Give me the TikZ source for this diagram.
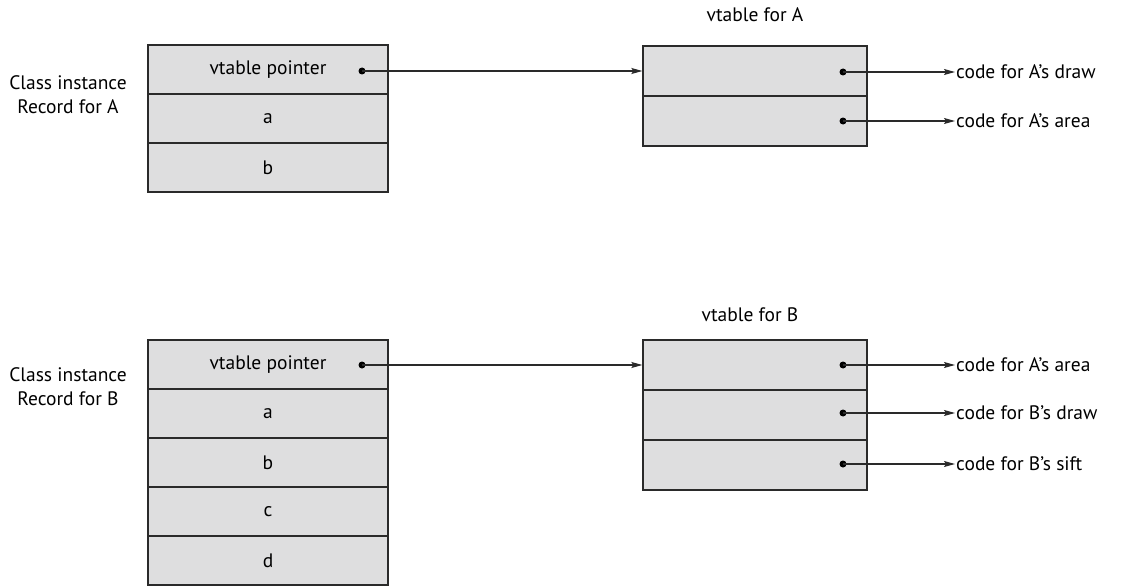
\documentclass[tikz,border=0pt]{standalone}
\usepackage{fontspec}
\setmainfont{PT Sans}
\usetikzlibrary{arrows.meta}
\definecolor{cellgray}{HTML}{DEDEDF}
\definecolor{linegray}{HTML}{2A2A2A}
\begin{document}
\begin{tikzpicture}[x=1pt,y=-1pt,
  cell/.style={draw=linegray, fill=cellgray, line width=1.3pt, minimum width=240pt, minimum height=49pt, inner sep=0pt, font=\fontsize{19.5}{23}\selectfont},
  vcell/.style={draw=linegray, fill=cellgray, line width=1.3pt, minimum width=224pt, minimum height=50pt, inner sep=0pt},
  dotn/.style={circle, fill=black, inner sep=0pt, minimum size=7pt},
  lbl/.style={font=\fontsize{19.5}{24}\selectfont, align=center, inner sep=0pt},
  code/.style={font=\fontsize{19.5}{23}\selectfont, anchor=west, inner sep=1pt},
  ptr/.style={draw=linegray, line width=1.2pt, -{Stealth[length=11pt,width=6pt,inset=2pt]}}
]
\useasboundingbox (0,0) rectangle (1133,586);
% Record for A
\node[cell] (ra0) at (268,69.5) {vtable pointer};
\node[cell] (ra1) at (268,118.5) {a};
\node[cell] (ra2) at (268,167.5) {b};
\node[lbl] (la) at (68,95) {Class instance\\Record for A};
\node[dotn] (pa) at (362,71) {};
% vtable A
\node[lbl] (ta) at (755,15) {vtable for A};
\node[vcell] (va0) at (755,71) {};
\node[vcell] (va1) at (755,121) {};
\node[dotn] (da0) at (843,72) {};
\node[dotn] (da1) at (843,121) {};
\node[code] (ca0) at (955,72) {code for A’s draw};
\node[code] (ca1) at (955,121) {code for A’s area};
\draw[ptr] (pa.center) -- (va0.west);
\draw[ptr] (da0.center) -- (ca0.west);
\draw[ptr] (da1.center) -- (ca1.west);
% Record for B
\node[cell] (rb0) at (268,364.5) {vtable pointer};
\node[cell] (rb1) at (268,413.5) {a};
\node[cell] (rb2) at (268,462.5) {b};
\node[cell] (rb3) at (268,511.5) {c};
\node[cell] (rb4) at (268,560.5) {d};
\node[lbl] (lb) at (68,387) {Class instance\\Record for B};
\node[dotn] (pb) at (362,365) {};
% vtable B
\node[lbl] (tb) at (750,315) {vtable for B};
\node[vcell] (vb0) at (755,365) {};
\node[vcell] (vb1) at (755,415) {};
\node[vcell] (vb2) at (755,465) {};
\node[dotn] (db0) at (843,365) {};
\node[dotn] (db1) at (843,413) {};
\node[dotn] (db2) at (843,464) {};
\node[code] (cb0) at (955,365) {code for A’s area};
\node[code] (cb1) at (955,413) {code for B’s draw};
\node[code] (cb2) at (955,464) {code for B’s sift};
\draw[ptr] (pb.center) -- (vb0.west);
\draw[ptr] (db0.center) -- (cb0.west);
\draw[ptr] (db1.center) -- (cb1.west);
\draw[ptr] (db2.center) -- (cb2.west);
\end{tikzpicture}
\end{document}
